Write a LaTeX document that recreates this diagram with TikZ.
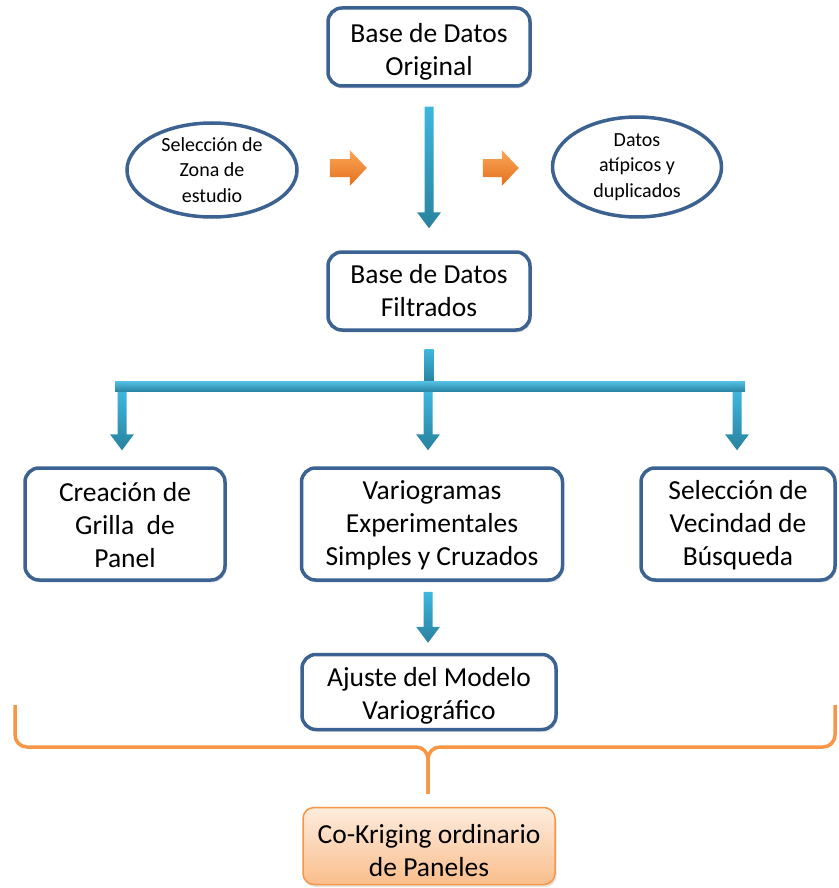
\documentclass[tikz,border=0pt]{standalone}
\usepackage{fontspec}
\setmainfont{Carlito}
\usetikzlibrary{calc,shadows,shapes.geometric}
\definecolor{boxline}{RGB}{60,98,145}
\definecolor{arrtop}{RGB}{62,182,222}
\definecolor{arrbot}{RGB}{40,130,158}
\definecolor{ortop}{RGB}{250,168,88}
\definecolor{orbot}{RGB}{228,110,28}
\definecolor{braceor}{RGB}{247,150,70}
\definecolor{peachtop}{RGB}{253,236,222}
\definecolor{peachbot}{RGB}{250,190,140}
\newcommand\tstrut[1]{\rule{0pt}{#1}}
\newcommand\blockdown[2]{%
  \shade[top color=arrtop, bottom color=arrbot]
    ($(#1)+(-4.5,0)$) -- ($(#2)+(-4.5,-16)$) -- ($(#2)+(-12,-16)$) -- (#2)
    -- ($(#2)+(12,-16)$) -- ($(#2)+(4.5,-16)$) -- ($(#1)+(4.5,0)$) -- cycle;}
\newcommand\blockright[2]{%
  \shade[top color=ortop, bottom color=orbot]
    ($(#1)+(0,-9)$) -- ($(#2)+(-17,-9)$) -- ($(#2)+(-17,-18)$) -- (#2)
    -- ($(#2)+(-17,18)$) -- ($(#2)+(-17,9)$) -- ($(#1)+(0,9)$) -- cycle;}
\begin{document}
\begin{tikzpicture}[x=1pt,y=-1pt,
  stepbox/.style={draw=boxline, line width=3.5pt, rounded corners=14pt, fill=white,
    align=center, inner sep=0pt, font=\fontsize{27.5}{33}\selectfont,
    drop shadow={opacity=0.2, shadow xshift=1.5pt, shadow yshift=-2.5pt}},
  oval/.style={ellipse, draw=boxline, line width=3.5pt, fill=white, align=center,
    inner sep=0pt, font=\fontsize{20}{25.5}\selectfont},
  finalbox/.style={draw=braceor, line width=1.5pt, rounded corners=11pt,
    top color=peachtop, bottom color=peachbot, align=center, inner sep=0pt,
    font=\fontsize{27.5}{33}\selectfont,
    drop shadow={opacity=0.2, shadow xshift=1.5pt, shadow yshift=-2.5pt}},
  bracestyle/.style={draw=braceor, line width=3.5pt, rounded corners=12pt}]
\useasboundingbox (0,0) rectangle (838,888);

\node[stepbox, minimum width=202pt, minimum height=78pt] (orig) at (429,47) {\tstrut{28pt}Base de Datos\\Original};
\node[oval, minimum width=170pt, minimum height=94pt] (zona) at (212,170) {Selección de\\Zona de\\estudio};
\node[oval, minimum width=169pt, minimum height=100pt] (atip) at (637,167) {Datos\\atípicos y\\duplicados};
\node[stepbox, minimum width=202pt, minimum height=78pt] (filt) at (429,291) {Base de Datos\\Filtrados};
\node[stepbox, minimum width=200pt, minimum height=112pt] (grilla) at (125,524) {\tstrut{22pt}Creación de\\Grilla~ de\\Panel};
\node[stepbox, minimum width=261pt, minimum height=112pt] (vario) at (432,524) {\tstrut{22pt}Variogramas\\Experimentales\\Simples y Cruzados};
\node[stepbox, minimum width=194pt, minimum height=112pt] (vecin) at (738,524) {\tstrut{22pt}Selección de\\Vecindad de\\Búsqueda};
\node[stepbox, minimum width=254pt, minimum height=75pt] (ajuste) at (429,692) {\tstrut{26pt}Ajuste del Modelo\\Variográfico};
\node[finalbox, minimum width=252pt, minimum height=77pt] (cok) at (429,846) {\tstrut{27.5pt}Co-Kriging ordinario\\de Paneles};

% main vertical arrow
\coordinate (a1) at ($(orig.south)+(0,19)$);
\coordinate (a2) at ($(filt.north)+(0,-22)$);
\blockdown{a1}{a2}

% orange arrows
\coordinate (o1) at ($(zona.east)+(31,-2)$);
\coordinate (o2) at ($(zona.east)+(68,-2)$);
\coordinate (o3) at ($(atip.west)+(-68,1)$);
\coordinate (o4) at ($(atip.west)+(-32,1)$);
\blockright{o1}{o2}
\blockright{o3}{o4}

% branch
\shade[top color=arrtop, bottom color=arrbot] ($(filt.south)+(-4.5,18)$) rectangle ($(filt.south)+(4.5,51)$);
\shade[top color=arrtop!90!white, bottom color=arrbot] ($(filt.south)+(-314,50)$) rectangle ($(filt.south)+(316,60)$);
\coordinate (bar) at ($(filt.south)+(0,60)$);
\coordinate (t1) at ($(grilla.north)+(-3,-16)$);
\coordinate (t2) at ($(vario.north)+(-4,-16)$);
\coordinate (t3) at ($(vecin.north)+(-1,-16)$);
\coordinate (s1) at (t1 |- bar);
\coordinate (s2) at (t2 |- bar);
\coordinate (s3) at (t3 |- bar);
\blockdown{s1}{t1}
\blockdown{s2}{t2}
\blockdown{s3}{t3}

% variogramas -> ajuste
\coordinate (v1) at ($(vario.south)+(-4,10)$);
\coordinate (v2) at ($(ajuste.north)+(-1,-10)$);
\blockdown{v1}{v2}

% brace
\coordinate (brL) at (15,705);
\coordinate (brR) at (835,705);
\coordinate (brTip) at ($(cok.north)+(-1,-13)$);
\coordinate (brMid) at (brTip |- 0,747);
\draw[bracestyle] (brL) -- (brL |- brMid) -- (brMid) -- (brTip);
\draw[bracestyle] (brR) -- (brR |- brMid) -- (brMid) -- (brTip);
\end{tikzpicture}
\end{document}
